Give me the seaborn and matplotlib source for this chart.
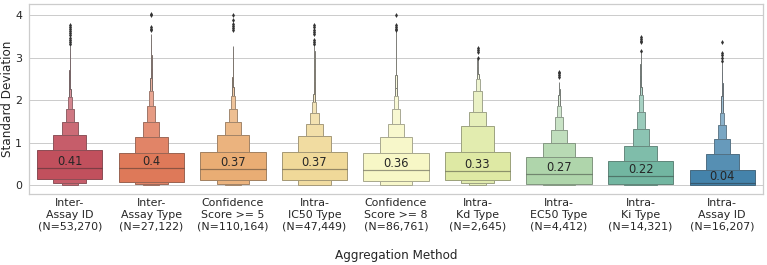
import numpy as np
import pandas as pd
import matplotlib
matplotlib.use("Agg")
import matplotlib.pyplot as plt
import seaborn as sns

# ---- data ----
categories = [
    "Inter-\nAssay ID\n(N=53,270)",
    "Inter-\nAssay Type\n(N=27,122)",
    "Confidence\nScore >= 5\n(N=110,164)",
    "Intra-\nIC50 Type\n(N=47,449)",
    "Confidence\nScore >= 8\n(N=86,761)",
    "Intra-\nKd Type\n(N=2,645)",
    "Intra-\nEC50 Type\n(N=4,412)",
    "Intra-\nKi Type\n(N=14,321)",
    "Intra-\nAssay ID\n(N=16,207)",
]
medians = [0.41, 0.4, 0.37, 0.37, 0.36, 0.33, 0.27, 0.22, 0.04]

# letter-value box ends, innermost (IQR) to outermost
upper_ends = [
    [0.816, 1.17, 1.48, 1.78, 2.08, 2.27, 2.71, 2.95, 3.10, 3.20, 3.25, 3.28],
    [0.76, 1.13, 1.48, 1.86, 2.21, 2.53, 2.76, 3.05, 3.30, 3.45, 3.55],
    [0.78, 1.17, 1.48, 1.78, 2.10, 2.31, 2.55, 2.80, 3.00, 3.12, 3.20, 3.25, 3.28],
    [0.78, 1.15, 1.43, 1.70, 1.95, 2.15, 2.45, 2.75, 3.00, 3.15, 3.22, 3.28],
    [0.76, 1.14, 1.44, 1.78, 2.09, 2.29, 2.60, 2.90, 3.15, 3.35, 3.48, 3.56, 3.62],
    [0.78, 1.40, 1.72, 2.21, 2.49, 2.62, 2.80, 2.96],
    [0.67, 1.00, 1.29, 1.60, 1.86, 2.11, 2.25, 2.35, 2.42],
    [0.56, 0.93, 1.31, 1.73, 2.13, 2.31, 2.60, 2.85, 3.00, 3.11],
    [0.35, 0.72, 1.09, 1.41, 1.69, 2.09, 2.40, 2.65, 2.80, 2.88],
]
lower_ends = [
    [0.15, 0.05, 0.01, 0, 0, 0, 0, 0, 0, 0, 0, 0],
    [0.07, 0.03, 0, 0, 0, 0, 0, 0, 0, 0, 0],
    [0.12, 0.02, 0, 0, 0, 0, 0, 0, 0, 0, 0, 0, 0],
    [0.11, 0.01, 0, 0, 0, 0, 0, 0, 0, 0, 0, 0],
    [0.09, 0, 0, 0, 0, 0, 0, 0, 0, 0, 0, 0, 0],
    [0.13, 0.05, 0, 0, 0, 0, 0, 0],
    [0.02, 0, 0, 0, 0, 0, 0, 0, 0],
    [0.03, 0, 0, 0, 0, 0, 0, 0, 0, 0],
    [0, 0, 0, 0, 0, 0, 0, 0, 0, 0],
]
outliers = [
    [3.31, 3.36, 3.42, 3.47, 3.52, 3.57, 3.62, 3.67, 3.72, 3.76],
    [3.64, 3.68, 3.72, 3.99, 4.02],
    [3.66, 3.70, 3.75, 3.80, 3.88, 4.01],
    [3.32, 3.37, 3.41, 3.55, 3.60, 3.66, 3.71, 3.76],
    [3.64, 3.68, 3.72, 3.76, 4.01],
    [2.98, 3.12, 3.17, 3.22],
    [2.55, 2.59, 2.63, 2.66],
    [3.15, 3.36, 3.40, 3.44, 3.49],
    [2.92, 3.00, 3.05, 3.10, 3.37],
]

# ---- style ----
sns.set_theme(style="whitegrid", context="notebook")
plt.rcParams["font.family"] = ["DejaVu Sans"]
palette = sns.color_palette("Spectral", len(categories), desat=0.75)

fig = plt.figure(figsize=(767 / 72, 265 / 72), dpi=72)
ax = fig.add_axes([29 / 767, 1 - 194 / 265, (763 - 29) / 767, (194 - 4) / 265])

white = np.array([1.0, 1.0, 1.0])
gray = np.array([0.3, 0.3, 0.3])
for i, (ups, lows, base) in enumerate(zip(upper_ends, lower_ends, palette)):
    base = np.array(base)
    k = len(ups)
    light = base + 0.85 * (white - base)
    # draw outermost first so inner (wider) boxes sit on top
    for j in range(k - 1, -1, -1):
        t = j / (k - 1)
        face = base + t * (light - base)
        mix = 0.45 if j < 5 else 0.7
        edge = face * (1 - mix) + gray * mix
        ax.bar(i, ups[j] - lows[j], bottom=lows[j], width=0.8 * 0.5 ** j,
               color=face, edgecolor=edge, linewidth=1.0, zorder=2)
    ax.plot([i - 0.4, i + 0.4], [medians[i], medians[i]], color=".15",
            alpha=0.45, linewidth=1.2, solid_capstyle="butt", zorder=3)
    ax.text(i, medians[i], f"{medians[i]:g}", ha="center", va="bottom",
            fontsize=11.5, color=".15", zorder=4)

out_df = pd.DataFrame(
    [(i, v) for i, vals in enumerate(outliers) for v in vals],
    columns=["pos", "value"],
)
sns.scatterplot(data=out_df, x="pos", y="value", marker="d", color=".2",
                s=12, linewidth=0, ax=ax, zorder=3)

ax.set_xlim(-0.5, len(categories) - 0.5)
ax.set_ylim(-0.21, 4.26)
ax.set_yticks([0, 1, 2, 3, 4])
ax.set_xticks(range(len(categories)))
ax.set_xticklabels(categories, fontsize=11)
ax.tick_params(axis="y", labelsize=11, length=0, pad=7)
ax.tick_params(axis="x", length=0, pad=4)
ax.grid(axis="x", visible=False)
ax.set_xlabel("Aggregation Method", fontsize=12, labelpad=18)
ax.set_ylabel("Standard Deviation", fontsize=12, labelpad=1)

fig.savefig("out.png", dpi=72)
